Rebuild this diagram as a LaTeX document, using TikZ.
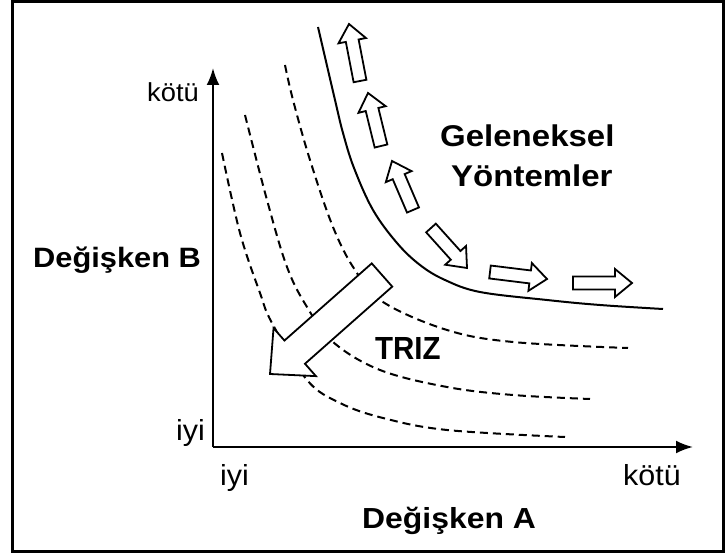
\documentclass[tikz,border=0pt]{standalone}
\usepackage{fontspec}
\setmainfont{Liberation Sans}
\newfontfamily\regf{Liberation Sans}[FakeStretch=1.05]
\newfontfamily\boldf{Liberation Sans}[FakeStretch=1.1]
\newfontfamily\trizf{Liberation Sans}[FakeStretch=0.92]
\usetikzlibrary{calc,arrows.meta}
\newcommand\blockarrow[6]{%
  \coordinate (#1c) at ($(#3)!#6!(#2)$);
  \draw[blockarr] ($(#2)!#4!90:(#3)$) -- ($(#1c)!#4!90:(#3)$) -- ($(#1c)!#5!90:(#3)$) -- (#3)
    -- ($(#1c)!#5!-90:(#3)$) -- ($(#1c)!#4!-90:(#3)$) -- ($(#2)!#4!-90:(#3)$) -- cycle;}
\begin{document}
\begin{tikzpicture}[x=1pt,y=-1pt,
  lab/.style={inner sep=0pt, anchor=base west},
  axis/.style={line width=2.2pt, -{Latex[length=17pt,width=13pt]}},
  dashcurve/.style={line width=2pt, dash pattern=on 8pt off 5pt},
  solidcurve/.style={line width=2pt},
  blockarr/.style={draw=black, fill=white, line width=1.8pt, line join=miter}]
\useasboundingbox (0,0) rectangle (726,553);
\fill[white] (0,0) rectangle (726,553);
\draw[line width=3pt] (12,1.6) rectangle (723.5,551.5);

% axes
\coordinate (O) at (213,447);
\coordinate (Ytip) at (213,68);
\coordinate (Xtip) at (693,447);
\draw[axis] (O) -- (Ytip);
\draw[axis] (O) -- (Xtip);

% labels
\node[lab, font=\regf\fontsize{26}{26}\selectfont] (kotuY) at (147,102) {kötü};
\node[lab, font=\regf\fontsize{29}{29}\selectfont] (iyiY) at (176,440) {iyi};
\node[lab, font=\regf\fontsize{29}{29}\selectfont] (iyiX) at (220,485) {iyi};
\node[lab, font=\regf\fontsize{29}{29}\selectfont] (kotuX) at (623,485) {kötü};
\node[lab, font=\boldf\bfseries\fontsize{28}{28}\selectfont] (degB) at (33,268) {Değişken B};
\node[lab, font=\boldf\bfseries\fontsize{29}{29}\selectfont] (degA) at (362,528) {Değişken A};
\node[lab, font=\boldf\bfseries\fontsize{30}{30}\selectfont] (gel) at (440,146.5) {Geleneksel};
\node[lab, font=\boldf\bfseries\fontsize{30}{30}\selectfont] (yon) at (451,186.5) {Yöntemler};
\node[lab, font=\trizf\bfseries\fontsize{32}{32}\selectfont] (triz) at (375,360) {TRIZ};

% dashed curves
\draw[dashcurve] plot[smooth, tension=0.6] coordinates {(285,65) (293,100) (310,160) (333,227) (355,270) (383,302) (447,330) (513,342) (628,348)};
\draw[dashcurve] plot[smooth, tension=0.6] coordinates {(245,115) (267,200) (287,267) (307,307) (333,342) (380,370) (447,387) (513,395) (590,399)};
\draw[dashcurve] plot[smooth, tension=0.6] coordinates {(222,153) (240,233) (260,293) (272,323) (307,380) (340,403) (383,418) (447,430) (565,437)};

% solid curve
\draw[solidcurve] plot[smooth, tension=0.6] coordinates {(318,27) (335,100) (343,133) (354,168) (373,210) (397,243) (420,265) (445,280) (480,292) (547,300) (600,305) (663,309)};

% small hollow arrows
\coordinate (a1s) at (360,81);  \coordinate (a1e) at (349,24);
\coordinate (a2s) at (381,146); \coordinate (a2e) at (368,93);
\coordinate (a3s) at (413,210); \coordinate (a3e) at (392,161);
\coordinate (a4s) at (431,228); \coordinate (a4e) at (467,268);
\coordinate (a5s) at (490,272); \coordinate (a5e) at (547,279);
\coordinate (a6s) at (573,283); \coordinate (a6e) at (632,283);
\blockarrow{h1}{a1s}{a1e}{6.5pt}{14pt}{17pt}
\blockarrow{h2}{a2s}{a2e}{6.5pt}{14pt}{17pt}
\blockarrow{h3}{a3s}{a3e}{6.5pt}{14pt}{17pt}
\blockarrow{h4}{a4s}{a4e}{6.5pt}{14pt}{17pt}
\blockarrow{h5}{a5s}{a5e}{6.5pt}{14pt}{17pt}
\blockarrow{h6}{a6s}{a6e}{6.5pt}{14pt}{17pt}

% big TRIZ arrow
\coordinate (bs) at (382,275); \coordinate (be) at (270,374);
\blockarrow{hb}{bs}{be}{15.5pt}{32pt}{33pt}
\end{tikzpicture}
\end{document}
